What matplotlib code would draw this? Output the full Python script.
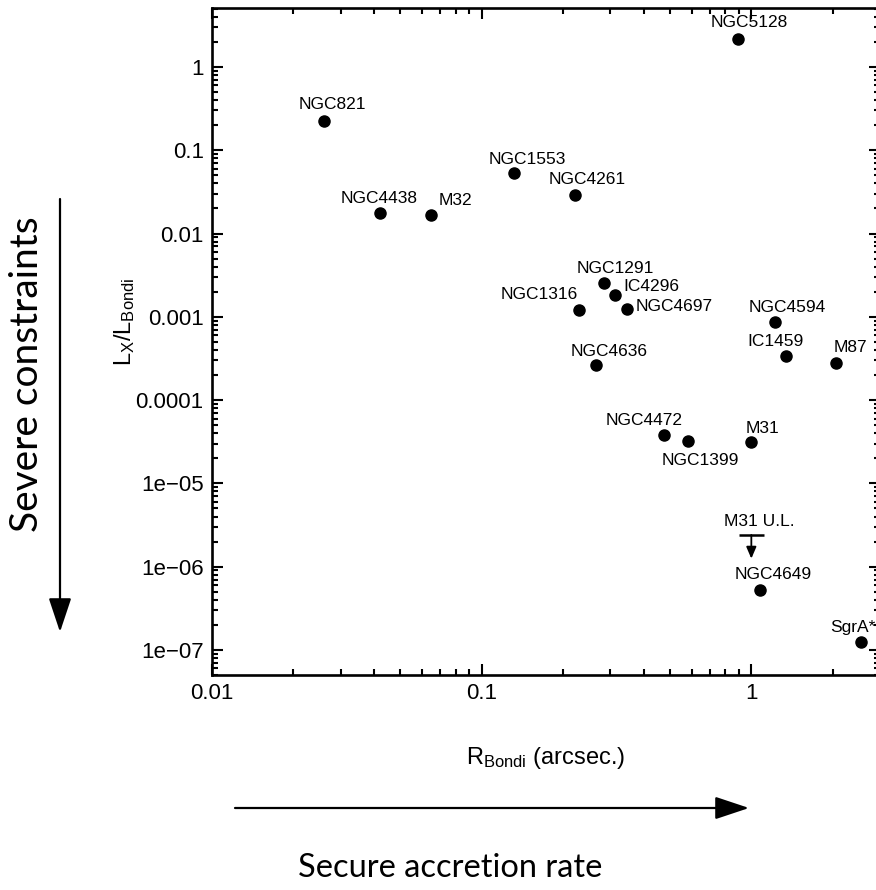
import matplotlib
matplotlib.use('Agg')
from matplotlib import pyplot as plt
from matplotlib.ticker import FixedLocator, FixedFormatter, LogLocator, NullFormatter

plt.rcParams['font.family'] = ['Liberation Sans', 'DejaVu Sans']
plt.rcParams['mathtext.fontset'] = 'custom'
plt.rcParams['mathtext.rm'] = 'Liberation Sans'
plt.rcParams['mathtext.it'] = 'Liberation Sans'

# galaxies: Bondi radius (arcsec) vs Lx/L_Bondi
names = ['NGC821', 'NGC4438', 'M32', 'NGC1553', 'NGC4261', 'NGC5128',
         'NGC1291', 'IC4296', 'NGC4697', 'NGC1316', 'NGC4636', 'NGC4594',
         'IC1459', 'M87', 'NGC4472', 'NGC1399', 'M31', 'NGC4649', 'SgrA*']
r_bondi = [0.026, 0.042, 0.065, 0.132, 0.222, 0.89,
           0.283, 0.313, 0.346, 0.230, 0.266, 1.22,
           1.34, 2.06, 0.473, 0.583, 1.0, 1.08, 2.54]
lx_lbondi = [0.226, 0.0175, 0.0166, 0.053, 0.029, 2.17,
             0.00253, 0.00183, 0.00124, 0.00119, 0.000265, 0.00086,
             0.000342, 0.000282, 3.8e-5, 3.2e-5, 3.1e-5, 5.3e-7, 1.26e-7]

# M31 upper limit
ul_name = 'M31 U.L.'
ul_x = 1.0
ul_y = 2.4e-6

xticks = [0.01, 0.1, 1]
xticklabels = ['0.01', '0.1', '1']
yticks = [1, 0.1, 0.01, 0.001, 0.0001, 1e-5, 1e-6, 1e-7]
yticklabels = ['1', '0.1', '0.01', '0.001', '0.0001',
               '1e\u221205', '1e\u221206', '1e\u221207']

# label offsets in pixels and alignment
offsets = [(8, 16), (-1, 15), (24, 15), (13, 14), (12, 15), (12, 16),
           (12, 15), (8, 8), (9, 3), (-1, 16), (13, 13), (13, 15),
           (-10, 14), (14, 15), (-20, 15), (12, -19), (11, 14), (13, 15),
           (-8, 14)]
aligns = ['center'] * len(names)
aligns[names.index('IC4296')] = 'left'
aligns[names.index('NGC4697')] = 'left'
aligns[names.index('NGC1316')] = 'right'

W, H = 876, 890
fig = plt.figure(figsize=(W / 100, H / 100), dpi=100)
ax = fig.add_axes([212 / W, (H - 675) / H, (880 - 212) / W, (675 - 8) / H])

ax.scatter(r_bondi, lx_lbondi, s=64, color='black', zorder=3)
for name, x, y, off, ha in zip(names, r_bondi, lx_lbondi, offsets, aligns):
    ax.annotate(name, (x, y), xytext=off, textcoords='offset pixels',
                ha=ha, va='center', fontsize=12.5)

# upper limit: bar plus downward arrow
ax.hlines(ul_y, ul_x / 1.11, ul_x * 1.11, color='black', lw=1.8)
ax.annotate('', xy=(ul_x, ul_y * 0.52), xytext=(ul_x, ul_y),
            arrowprops=dict(arrowstyle='-|>,head_length=0.7,head_width=0.3',
                            color='black', lw=1.3, shrinkA=0, shrinkB=0,
                            mutation_scale=10))
ax.annotate(ul_name, (ul_x, ul_y), xytext=(8, 13), textcoords='offset pixels',
            ha='center', va='center', fontsize=12.5)

ax.set_xscale('log')
ax.set_yscale('log')
ax.set_xlim(0.01, 3.0)
ax.set_ylim(5e-8, 5.1)

ax.xaxis.set_major_locator(FixedLocator(xticks))
ax.xaxis.set_major_formatter(FixedFormatter(xticklabels))
ax.yaxis.set_major_locator(FixedLocator(yticks))
ax.yaxis.set_major_formatter(FixedFormatter(yticklabels))
for axis in (ax.xaxis, ax.yaxis):
    axis.set_minor_locator(LogLocator(base=10, subs=range(2, 10), numticks=20))
    axis.set_minor_formatter(NullFormatter())

ax.tick_params(which='both', direction='in', top=True, right=True,
               width=1.5, labelsize=16)
ax.tick_params(which='major', length=8, pad=6)
ax.tick_params(which='minor', length=4.5)
for s in ax.spines.values():
    s.set_linewidth(1.9)

# axis titles
fig.text(546 / W, 1 - 758 / H, r'$\mathrm{R_{Bondi}}$ (arcsec.)',
         ha='center', va='center', fontsize=17)
fig.text(125 / W, 1 - 322 / H, r'$\mathrm{L_X/L_{Bondi}}$',
         ha='center', va='center', fontsize=17, rotation=90)

# side arrows with captions
arrow_kw = dict(arrowstyle='-|>,head_length=1.5,head_width=0.5',
                color='black', lw=1.6, shrinkA=0, shrinkB=0, mutation_scale=14)
ax.annotate('', xy=(60, H - 632), xytext=(60, H - 199),
            xycoords='figure pixels', textcoords='figure pixels',
            arrowprops=arrow_kw, annotation_clip=False)
ax.annotate('', xy=(749, H - 808), xytext=(235, H - 808),
            xycoords='figure pixels', textcoords='figure pixels',
            arrowprops=arrow_kw, annotation_clip=False)
fig.text(27 / W, 1 - 374 / H, 'Severe constraints', family='Lato',
         ha='center', va='center', fontsize=28, rotation=90)
fig.text(450 / W, 1 - 868 / H, 'Secure accretion rate', family='Lato',
         ha='center', va='center', fontsize=23.5)

fig.savefig('out.png', dpi=100)
